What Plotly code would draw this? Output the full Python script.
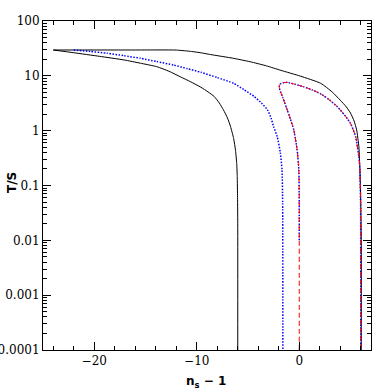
import plotly.graph_objects as go

# ---- data ----
outer_x = [-24, -16, -12, -10.5, -9.6, -8.4, -6.5, -4.8, -3.2, -1.8, 0.1, 2.1, 3.2, 4.0, 4.6, 5.0, 5.35, 5.6, 5.82, 5.92, 6.0, 6.05, 6.05]
outer_y = [29.6, 29.6, 29.5, 27.8, 26.3, 24.0, 21.0, 18.1, 15.2, 12.6, 9.9, 7.3, 5.1, 3.6, 2.7, 2.1, 1.5, 1.03, 0.51, 0.19, 0.05, 0.01, 1e-4]

inner_x = [-24, -22, -19.5, -17.1, -15.5, -13.9, -12.7, -11.6, -10.6, -9.6, -8.9, -8.3, -7.8, -7.4, -7.0, -6.7, -6.4, -6.22, -6.1, -6.05, -6.02, -6.0, -6.0]
inner_y = [29.6, 26.4, 22.7, 19.5, 17.0, 14.7, 12.1, 9.6, 7.8, 6.2, 5.1, 4.2, 3.2, 2.4, 1.7, 1.18, 0.72, 0.44, 0.25, 0.145, 0.06, 0.02, 1e-4]

blue_left_x = [-22, -20.4, -18.75, -17.1, -15.5, -13.9, -12.25, -10.9, -9.6, -8.0, -6.4, -5.4, -4.4, -3.7, -3.1, -2.75, -2.5, -2.15, -1.85, -1.68, -1.62, -1.6]
blue_left_y = [29.6, 27.8, 25.8, 23.3, 20.9, 18.2, 15.7, 13.5, 11.6, 9.3, 7.3, 5.6, 4.2, 3.2, 2.4, 1.7, 1.18, 0.78, 0.4, 0.19, 0.05, 1e-4]

loop_x = [0.0, 0.0, 0.0, -0.04, -0.2, -0.53, -0.85, -1.17, -1.6, -1.89, -1.95, -1.85, -1.6, -1.17, -0.4, 0.45, 1.3, 2.08, 2.9, 3.71, 4.4, 5.0, 5.5, 5.82, 5.92, 5.98, 6.0]
loop_y = [1e-4, 0.01, 0.05, 0.19, 0.44, 1.03, 1.6, 2.38, 4.0, 5.5, 6.4, 7.1, 7.45, 7.6, 7.0, 6.3, 5.5, 4.7, 3.7, 2.74, 1.95, 1.36, 0.78, 0.33, 0.19, 0.05, 1e-4]
blue_loop_start = 1  # blue dotted starts at T/S = 0.01

x_ticks = [-20, -10, 0]
x_ticktext = ["\u221220", "\u221210", "0"]
x_minor = [v for v in range(-24, 7, 2) if v not in x_ticks]
y_ticks = [1e-4, 1e-3, 1e-2, 1e-1, 1, 10, 100]
y_ticktext = ["0.0001", "0.001", "0.01", "0.1", "1", "10", "100"]
y_minor = [m * 10 ** e for e in range(-4, 2) for m in range(2, 10)]

line_black = dict(color="black", width=1, shape="spline", smoothing=0.5)
line_blue = dict(color="#0000ff", width=1.5, dash="1.5px,1.5px", shape="spline", smoothing=0.5)
line_red = dict(color="#ff0000", width=1, dash="5px,3px", shape="spline", smoothing=0.5)

fig = go.Figure()
fig.add_trace(go.Scatter(x=outer_x, y=outer_y, mode="lines", line=line_black))
fig.add_trace(go.Scatter(x=inner_x, y=inner_y, mode="lines", line=line_black))
fig.add_trace(go.Scatter(x=blue_left_x, y=blue_left_y, mode="lines", line=line_blue))
fig.add_trace(go.Scatter(x=loop_x[blue_loop_start:], y=loop_y[blue_loop_start:], mode="lines", line=line_blue))
fig.add_trace(go.Scatter(x=loop_x, y=loop_y, mode="lines", line=line_red))

font = dict(family="DejaVu Serif, Liberation Serif, serif", size=12, color="black")
title_font = dict(family="DejaVu Sans, sans-serif", size=12, color="black")
fig.update_layout(
    width=392, height=392,
    margin=dict(l=43, r=21, t=21, b=42),
    paper_bgcolor="white", plot_bgcolor="white",
    showlegend=False,
    hovermode=False,
    font=font,
    xaxis=dict(range=[-25, 7], showgrid=False, zeroline=False, automargin=False,
               showline=True, linecolor="black", linewidth=1, mirror="allticks",
               ticks="inside", ticklen=8, tickcolor="black", tickwidth=1,
               tickmode="array", tickvals=x_ticks, ticktext=x_ticktext, tickfont=font,
               minor=dict(tickmode="array", tickvals=x_minor, ticks="inside", ticklen=4,
                          tickcolor="black", showgrid=False)),
    yaxis=dict(type="log", range=[-4, 2], showgrid=False, zeroline=False, automargin=False,
               showline=True, linecolor="black", linewidth=1, mirror="allticks",
               ticks="inside", ticklen=8, tickcolor="black", tickwidth=1,
               tickmode="array", tickvals=y_ticks, ticktext=y_ticktext, tickfont=font,
               minor=dict(tickmode="array", tickvals=y_minor, ticks="inside", ticklen=4,
                          tickcolor="black", showgrid=False)),
    annotations=[
        dict(text="<b>n<sub>s</sub> \u2212 1</b>", xref="paper", yref="paper",
             x=0.497, y=-0.097, xanchor="center", yanchor="middle",
             showarrow=False, font=title_font),
        dict(text="<b>T/S</b>", xref="paper", yref="paper",
             x=-0.095, y=0.51, xanchor="center", yanchor="middle", textangle=-90,
             showarrow=False, font=title_font),
    ],
)
fig.write_html("out.html", config={"displayModeBar": False},
               post_script="document.body.style.margin='0';document.body.style.overflow='hidden';")
